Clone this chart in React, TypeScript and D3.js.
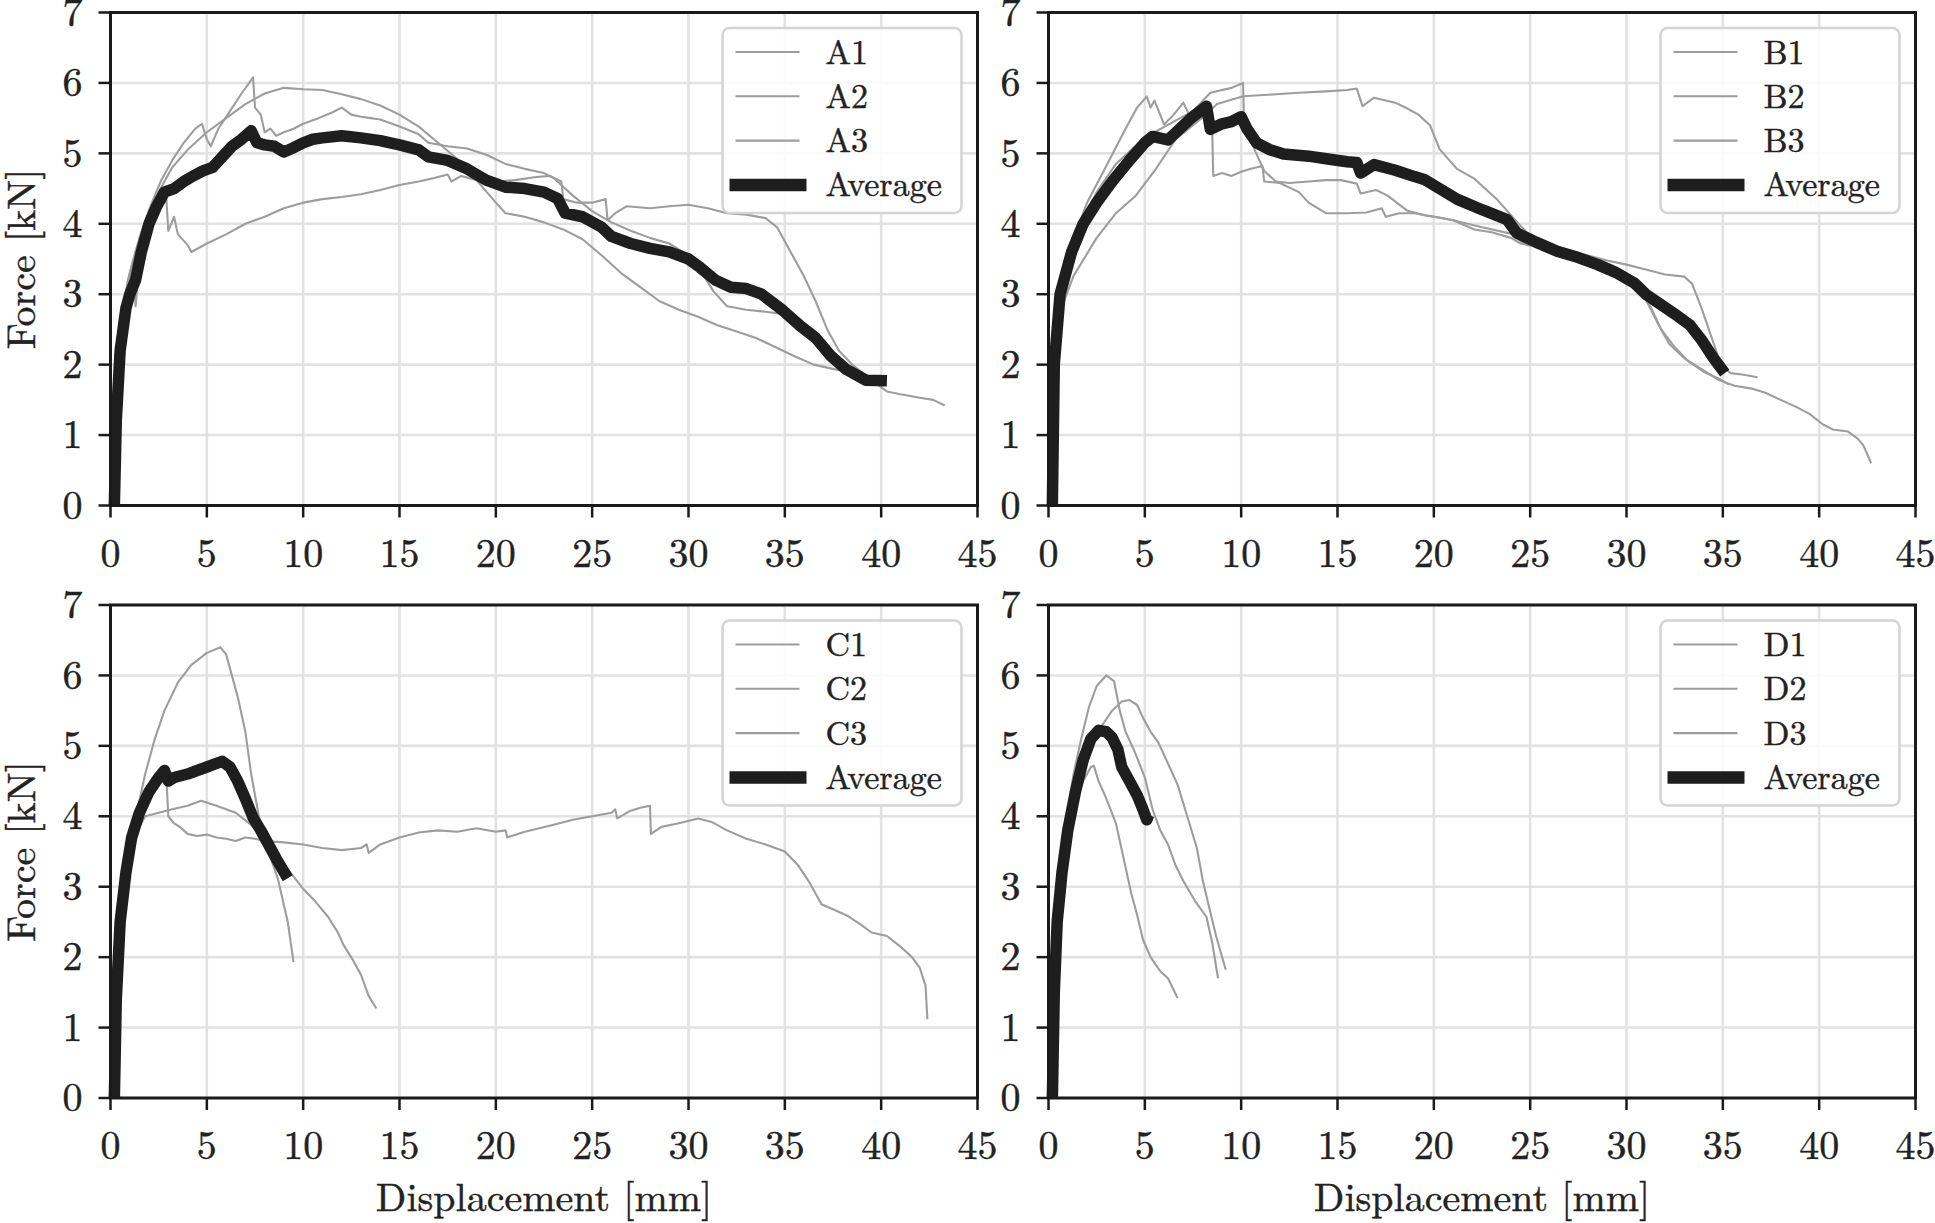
import * as d3 from "d3";

type Pt = [number, number];

const xTicks = [0, 5, 10, 15, 20, 25, 30, 35, 40, 45];
const yTicks = [0, 1, 2, 3, 4, 5, 6, 7];

// ---- panel A ----
const A1: Pt[] = [
  [0.2, 0], [0.35, 1.8], [0.6, 2.7], [0.9, 3.2], [1.3, 3.6], [1.8, 4.0], [2.5, 4.45], [3.2, 4.8],
  [4.0, 5.05], [5.0, 5.3], [6.0, 5.5], [7.0, 5.7], [8.0, 5.85], [9.0, 5.93], [10.0, 5.91], [11.0, 5.9],
  [12.0, 5.84], [13.0, 5.77], [14.0, 5.68], [15.0, 5.55], [16.0, 5.38], [17.0, 5.15], [18.0, 4.92],
  [19.0, 4.62], [20.0, 4.3], [20.5, 4.15], [21.5, 4.1], [22.5, 4.02], [23.5, 3.92], [24.5, 3.78],
  [25.5, 3.55], [26.5, 3.3], [27.5, 3.1], [28.5, 2.9], [29.5, 2.78], [30.5, 2.68], [31.5, 2.56],
  [32.5, 2.47], [33.5, 2.38], [34.5, 2.25], [35.5, 2.12], [36.5, 2.0], [37.5, 1.94], [38.5, 1.88],
  [39.5, 1.78], [40.3, 1.62], [41.0, 1.58], [42.0, 1.53], [42.7, 1.5], [43.3, 1.42],
];
const A2: Pt[] = [
  [0.2, 0], [0.3, 1.5], [0.6, 2.6], [1.0, 3.3], [1.5, 3.8], [2.0, 4.2], [2.6, 4.6], [3.2, 4.9],
  [3.8, 5.15], [4.4, 5.35], [4.75, 5.42], [5.0, 5.2], [5.2, 5.1], [5.6, 5.35], [6.2, 5.6], [6.8, 5.85],
  [7.4, 6.08], [7.5, 5.65], [7.8, 5.55], [8.0, 5.3], [8.3, 5.35], [8.6, 5.25], [9.0, 5.3], [9.5, 5.35],
  [10.0, 5.42], [10.8, 5.5], [11.5, 5.58], [12.0, 5.65], [12.5, 5.55], [13.0, 5.52], [13.5, 5.5],
  [14.0, 5.48], [15.0, 5.38], [16.0, 5.27], [16.5, 5.15], [17.5, 5.1], [18.5, 5.07], [19.5, 4.98],
  [20.5, 4.85], [21.5, 4.78], [22.5, 4.72], [23.0, 4.65], [23.4, 4.55], [24.0, 4.4], [25.0, 4.18],
  [26.0, 4.02], [27.0, 3.9], [28.0, 3.8], [29.0, 3.72], [30.0, 3.55], [30.7, 3.3], [31.3, 3.04],
  [32.0, 2.83], [33.0, 2.78], [34.0, 2.75], [34.9, 2.72], [36.0, 2.45], [36.9, 2.25], [37.5, 2.08],
  [38.2, 1.93], [39.2, 1.78], [39.8, 1.75],
];
const A3: Pt[] = [
  [0.2, 0], [0.4, 2.0], [0.8, 2.9], [1.2, 3.5], [1.3, 2.83], [1.45, 3.3], [2.0, 3.9], [2.5, 4.2],
  [2.9, 4.35], [3.0, 3.9], [3.3, 4.1], [3.5, 3.85], [4.0, 3.7], [4.2, 3.6], [5.0, 3.72], [6.0, 3.85],
  [7.0, 4.0], [8.0, 4.1], [9.0, 4.22], [10.0, 4.3], [11.0, 4.35], [12.0, 4.38], [13.0, 4.42],
  [14.0, 4.48], [15.0, 4.55], [16.0, 4.6], [16.8, 4.65], [17.5, 4.7], [17.7, 4.6], [18.2, 4.68],
  [19.0, 4.62], [20.0, 4.6], [21.0, 4.62], [22.0, 4.66], [22.8, 4.68], [23.4, 4.6], [23.5, 4.35],
  [24.2, 4.3], [25.0, 4.3], [25.7, 4.35], [25.8, 4.05], [26.2, 4.15], [26.8, 4.25], [28.0, 4.22],
  [29.0, 4.25], [30.0, 4.27], [31.0, 4.22], [32.0, 4.15], [33.0, 4.13], [34.0, 4.08], [34.6, 3.95],
  [35.3, 3.6], [36.0, 3.25], [36.6, 2.9], [37.2, 2.5], [37.8, 2.2], [38.5, 2.0], [39.2, 1.85],
  [39.8, 1.8],
];
const A_AVG: Pt[] = [
  [0.2, 0], [0.3, 1.2], [0.5, 2.2], [0.8, 2.8], [1.0, 3.0], [1.3, 3.2], [1.6, 3.6], [2.0, 4.0],
  [2.4, 4.25], [2.8, 4.45], [3.3, 4.5], [3.8, 4.6], [4.3, 4.68], [4.8, 4.75], [5.3, 4.8], [5.8, 4.95],
  [6.3, 5.1], [6.8, 5.2], [7.3, 5.32], [7.6, 5.15], [8.0, 5.12], [8.5, 5.1], [9.0, 5.02], [9.5, 5.08],
  [10.0, 5.15], [10.5, 5.2], [11.0, 5.22], [12.0, 5.25], [13.0, 5.22], [14.0, 5.18], [15.0, 5.12],
  [16.0, 5.05], [16.5, 4.95], [17.5, 4.9], [18.5, 4.78], [19.5, 4.62], [20.5, 4.52], [21.5, 4.5],
  [22.5, 4.45], [23.2, 4.36], [23.6, 4.15], [24.5, 4.1], [25.5, 3.95], [26.0, 3.82], [27.0, 3.72],
  [28.0, 3.65], [29.0, 3.6], [30.0, 3.5], [30.6, 3.38], [31.4, 3.2], [32.2, 3.1], [33.0, 3.08],
  [33.8, 3.0], [34.9, 2.77], [35.8, 2.55], [36.6, 2.38], [37.4, 2.12], [38.2, 1.93], [39.2, 1.78],
  [40.3, 1.77],
];

// ---- panel B ----
const B1: Pt[] = [
  [0.2, 0], [0.4, 2.5], [0.8, 3.3], [1.3, 3.78], [2.0, 4.3], [3.0, 4.82], [4.0, 5.35], [4.6, 5.65],
  [5.1, 5.81], [5.3, 5.65], [5.5, 5.75], [6.0, 5.41], [6.5, 5.55], [7.0, 5.72], [7.3, 5.55], [8.0, 5.52],
  [8.5, 5.3], [8.55, 4.68], [9.0, 4.72], [9.5, 4.68], [10.0, 4.74], [10.5, 4.78], [11.1, 4.82],
  [11.2, 4.6], [12.0, 4.58], [13.0, 4.45], [13.5, 4.3], [14.4, 4.15], [15.5, 4.15], [16.5, 4.16],
  [17.3, 4.22], [17.5, 4.1], [18.2, 4.15], [19.0, 4.15], [20.0, 4.1], [21.0, 4.05], [22.1, 3.92],
  [23.0, 3.88], [24.0, 3.8], [24.5, 3.72], [25.5, 3.68], [26.5, 3.6], [28.0, 3.5], [29.5, 3.35],
  [30.3, 3.12], [30.9, 2.98], [31.6, 2.6], [32.2, 2.3], [33.0, 2.09], [34.0, 1.92], [34.8, 1.78],
  [35.6, 1.7], [36.5, 1.66], [37.2, 1.6], [38.0, 1.5], [38.8, 1.4], [39.5, 1.3], [40.2, 1.15],
  [40.7, 1.08], [41.5, 1.05], [42.0, 0.95], [42.3, 0.85], [42.7, 0.6],
];
const B2: Pt[] = [
  [0.2, 0], [0.4, 2.1], [0.8, 2.9], [1.3, 3.26], [2.5, 3.8], [3.5, 4.15], [4.5, 4.39], [5.5, 4.75],
  [6.6, 5.2], [7.9, 5.49], [8.75, 5.7], [10.1, 5.81], [11.8, 5.84], [13.0, 5.86], [14.4, 5.88],
  [15.5, 5.9], [16.0, 5.92], [16.3, 5.67], [16.9, 5.79], [18.0, 5.72], [18.6, 5.64], [19.2, 5.55],
  [19.8, 5.4], [20.3, 5.06], [21.2, 4.78], [22.1, 4.64], [23.3, 4.34], [24.5, 3.97], [25.1, 3.8],
  [26.0, 3.7], [27.0, 3.62], [28.0, 3.55], [29.0, 3.48], [30.0, 3.42], [31.0, 3.35], [32.0, 3.28],
  [33.0, 3.25], [33.4, 3.15], [33.9, 2.8], [34.4, 2.4], [34.9, 2.0], [35.4, 1.88], [36.0, 1.86],
  [36.8, 1.82],
];
const B3: Pt[] = [
  [0.2, 0], [0.4, 2.3], [0.8, 3.2], [1.5, 3.9], [2.5, 4.45], [3.5, 4.85], [4.5, 5.1], [5.5, 5.3],
  [6.5, 5.45], [7.5, 5.6], [8.4, 5.86], [9.5, 5.93], [10.1, 6.0], [10.15, 5.4], [10.7, 5.05],
  [11.2, 4.75], [11.8, 4.6], [12.5, 4.58], [13.5, 4.6], [14.4, 4.62], [15.2, 4.62], [16.0, 4.57],
  [16.2, 4.43], [17.0, 4.48], [17.6, 4.4], [18.6, 4.19], [19.5, 4.12], [20.3, 4.09], [21.0, 4.05],
  [22.5, 3.95], [24.0, 3.86], [24.8, 3.7], [26.0, 3.65], [27.5, 3.57], [28.5, 3.5], [29.5, 3.38],
  [30.5, 3.15], [31.2, 2.85], [31.8, 2.5], [32.5, 2.25], [33.2, 2.05], [34.0, 1.9], [34.8, 1.8],
  [35.3, 1.72],
];
const B_AVG: Pt[] = [
  [0.2, 0], [0.3, 2.0], [0.6, 3.0], [1.2, 3.6], [1.8, 4.0], [2.5, 4.3], [3.3, 4.6], [4.2, 4.9],
  [5.0, 5.15], [5.4, 5.24], [6.2, 5.19], [6.7, 5.32], [7.4, 5.5], [8.2, 5.67], [8.4, 5.34], [9.0, 5.42],
  [9.5, 5.45], [10.0, 5.52], [10.3, 5.35], [10.8, 5.15], [11.5, 5.05], [12.2, 4.99], [13.5, 4.96],
  [14.5, 4.92], [15.5, 4.88], [16.0, 4.87], [16.2, 4.72], [16.9, 4.84], [18.0, 4.76], [19.0, 4.67],
  [19.5, 4.63], [20.3, 4.5], [21.2, 4.35], [22.5, 4.2], [23.8, 4.06], [24.3, 3.87], [25.3, 3.74],
  [26.4, 3.61], [27.5, 3.52], [28.5, 3.42], [29.5, 3.3], [30.4, 3.16], [31.0, 3.0], [31.8, 2.85],
  [32.5, 2.72], [33.3, 2.56], [33.9, 2.35], [34.5, 2.1], [35.1, 1.88],
];

// ---- panel C ----
const C1: Pt[] = [
  [0.2, 0], [0.4, 1.8], [0.7, 2.8], [1.0, 3.5], [1.4, 4.1], [1.8, 4.6], [2.3, 5.1], [2.8, 5.5],
  [3.5, 5.9], [4.2, 6.15], [5.0, 6.32], [5.7, 6.4], [6.0, 6.3], [6.2, 6.1], [6.6, 5.7], [7.0, 5.2],
  [7.3, 4.6], [7.7, 4.0], [8.2, 3.5], [8.7, 3.1], [9.2, 2.5], [9.5, 1.93],
];
const C2: Pt[] = [
  [0.2, 0], [0.4, 1.8], [0.7, 2.8], [1.0, 3.4], [1.4, 3.8], [1.8, 4.0], [2.5, 4.05], [3.2, 4.1],
  [4.0, 4.15], [4.7, 4.22], [5.5, 4.15], [6.5, 4.05], [7.2, 3.9], [7.8, 3.75], [8.5, 3.55], [9.2, 3.25],
  [10.0, 2.97], [10.6, 2.8], [11.3, 2.57], [11.8, 2.35], [12.1, 2.17], [12.6, 1.95], [13.0, 1.75],
  [13.4, 1.45], [13.8, 1.27],
];
const C3: Pt[] = [
  [0.2, 0], [0.4, 1.7], [0.7, 2.7], [1.0, 3.3], [1.4, 3.8], [1.9, 4.2], [2.4, 4.45], [2.9, 4.55],
  [3.0, 4.0], [3.3, 3.9], [3.6, 3.85], [4.0, 3.75], [4.5, 3.72], [5.0, 3.74], [5.5, 3.7], [6.0, 3.68],
  [6.5, 3.65], [7.0, 3.7], [7.5, 3.68], [8.0, 3.65], [9.0, 3.63], [10.0, 3.6], [11.0, 3.55],
  [12.0, 3.52], [13.0, 3.55], [13.3, 3.6], [13.4, 3.48], [14.0, 3.6], [15.0, 3.7], [16.0, 3.77],
  [17.0, 3.8], [18.0, 3.78], [19.0, 3.83], [20.0, 3.78], [20.5, 3.8], [20.6, 3.7], [21.5, 3.78],
  [23.0, 3.88], [24.0, 3.95], [25.0, 4.0], [26.0, 4.05], [26.2, 4.1], [26.3, 3.97], [27.0, 4.08],
  [27.5, 4.12], [28.0, 4.15], [28.05, 3.75], [28.6, 3.85], [29.5, 3.9], [30.5, 3.97], [31.2, 3.92],
  [32.0, 3.8], [33.0, 3.68], [34.0, 3.6], [35.0, 3.5], [35.7, 3.3], [36.3, 3.05], [36.9, 2.75],
  [37.5, 2.68], [38.3, 2.58], [39.0, 2.45], [39.5, 2.35], [40.3, 2.3], [41.0, 2.15], [41.6, 2.0],
  [42.0, 1.85], [42.3, 1.6], [42.4, 1.12],
];
const C_AVG: Pt[] = [
  [0.2, 0], [0.3, 1.4], [0.5, 2.5], [0.8, 3.2], [1.1, 3.7], [1.5, 4.05], [2.0, 4.35], [2.5, 4.55],
  [2.8, 4.65], [3.0, 4.5], [3.3, 4.55], [4.0, 4.6], [4.5, 4.65], [5.0, 4.7], [5.5, 4.75], [5.8, 4.78],
  [6.2, 4.7], [6.6, 4.5], [7.0, 4.25], [7.4, 3.98], [7.8, 3.8], [8.2, 3.6], [8.6, 3.4], [9.2, 3.12],
];

// ---- panel D ----
const D1: Pt[] = [
  [0.2, 0], [0.35, 1.8], [0.6, 3.0], [0.9, 3.9], [1.3, 4.6], [1.7, 5.1], [2.1, 5.55], [2.5, 5.85],
  [3.0, 6.0], [3.4, 5.92], [3.7, 5.5], [4.0, 5.2], [4.5, 4.9], [5.0, 4.55], [5.4, 4.1], [5.8, 3.8],
  [6.2, 3.6], [6.6, 3.3], [7.0, 3.08], [7.6, 2.8], [8.2, 2.57], [8.5, 2.2], [8.8, 1.7],
];
const D2: Pt[] = [
  [0.2, 0], [0.35, 1.6], [0.6, 2.7], [1.0, 3.6], [1.4, 4.2], [1.9, 4.7], [2.3, 5.0], [2.8, 5.3],
  [3.3, 5.5], [3.8, 5.63], [4.2, 5.65], [4.6, 5.58], [4.9, 5.4], [5.3, 5.2], [5.7, 5.05], [6.2, 4.75],
  [6.7, 4.45], [7.2, 4.0], [7.7, 3.55], [8.0, 3.1], [8.3, 2.75], [8.7, 2.3], [9.2, 1.82],
];
const D3: Pt[] = [
  [0.2, 0], [0.35, 1.7], [0.6, 2.8], [1.0, 3.7], [1.4, 4.2], [1.8, 4.5], [2.2, 4.7], [2.35, 4.72],
  [2.6, 4.5], [3.0, 4.25], [3.5, 3.9], [3.9, 3.4], [4.3, 2.9], [4.6, 2.6], [4.9, 2.25], [5.3, 2.0],
  [5.8, 1.8], [6.2, 1.7], [6.7, 1.42],
];
const D_AVG: Pt[] = [
  [0.2, 0], [0.3, 1.5], [0.45, 2.5], [0.7, 3.2], [1.0, 3.8], [1.4, 4.35], [1.8, 4.8], [2.2, 5.1],
  [2.6, 5.22], [3.0, 5.2], [3.3, 5.12], [3.6, 4.95], [3.8, 4.7], [4.2, 4.5], [4.6, 4.3], [4.9, 4.1],
  [5.1, 3.95], [5.2, 4.02],
];

const W = 1935;
const H = 1223;
const PW = 867;
const PH = 493;
const FONT = '"Latin Modern Roman", "Liberation Serif", serif';

// slight outline so the thin Latin Modern strokes read as heavy as the reference
const txt = { fontFamily: FONT, fill: "#222", stroke: "#222", strokeWidth: 0.45 };

interface PanelProps {
  left: number;
  top: number;
  names: string[];
  runs: Pt[][];
  avg: Pt[];
  yLabel: boolean;
  xLabel: boolean;
}

function Panel({ left, top, names, runs, avg, yLabel, xLabel }: PanelProps) {
  const x = d3.scaleLinear().domain([0, 45]).range([0, PW]);
  const y = d3.scaleLinear().domain([0, 7]).range([PH, 0]);
  const line = d3
    .line<Pt>()
    .x((d) => x(d[0]))
    .y((d) => y(d[1]));

  const legX = PW - 255;
  const legY = 15.5;
  const rows = [...names, "Average"];

  return (
    <g transform={`translate(${left},${top})`}>
      {xTicks.map((t) => (
        <line key={"gx" + t} x1={x(t)} x2={x(t)} y1={0} y2={PH} stroke="#e2e2e2" strokeWidth={2.6} />
      ))}
      {yTicks.map((t) => (
        <line key={"gy" + t} x1={0} x2={PW} y1={y(t)} y2={y(t)} stroke="#e2e2e2" strokeWidth={2.6} />
      ))}
      {runs.map((r, i) => (
        <path key={i} d={line(r) ?? ""} fill="none" stroke="#9d9d9d" strokeWidth={2.1} strokeLinejoin="round" />
      ))}
      <path d={line(avg) ?? ""} fill="none" stroke="#1e1e1e" strokeWidth={11.5} strokeLinejoin="round" strokeLinecap="butt" />
      <rect x={0} y={0} width={PW} height={PH} fill="none" stroke="#1a1a1a" strokeWidth={3} />
      {xTicks.map((t) => (
        <g key={"tx" + t}>
          <line x1={x(t)} x2={x(t)} y1={PH} y2={PH + 12} stroke="#1a1a1a" strokeWidth={2.5} />
          <text x={x(t)} y={PH + 61} textAnchor="middle" fontSize={40} style={txt}>
            {t}
          </text>
        </g>
      ))}
      {yTicks.map((t) => (
        <g key={"ty" + t}>
          <line x1={-12} x2={0} y1={y(t)} y2={y(t)} stroke="#1a1a1a" strokeWidth={2.5} />
          <text x={-28} y={y(t)} dy="0.33em" textAnchor="end" fontSize={40} style={txt}>
            {t}
          </text>
        </g>
      ))}
      <g transform={`translate(${legX},${legY})`}>
        <rect x={0} y={0} width={239} height={185} rx={7} fill="white" fillOpacity={0.85} stroke="#d4d4d4" strokeWidth={2.5} />
        {rows.map((name, i) => {
          const ry = 24 + i * 44.3;
          const isAvg = i === rows.length - 1;
          return (
            <g key={name}>
              <line
                x1={isAvg ? 7 : 13}
                x2={isAvg ? 84 : 77}
                y1={ry}
                y2={ry}
                stroke={isAvg ? "#1e1e1e" : "#9d9d9d"}
                strokeWidth={isAvg ? 12.5 : 2.1}
              />
              <text x={103} y={ry} dy="0.34em" fontSize={34} style={txt}>
                {name}
              </text>
            </g>
          );
        })}
      </g>
      {yLabel && (
        <text
          transform={`translate(${-89},${PH / 2}) rotate(-90)`}
          textAnchor="middle"
          dy="0.33em"
          fontSize={40}
          style={txt}
        >
          Force [kN]
        </text>
      )}
      {xLabel && (
        <text x={PW / 2} y={PH + 113} textAnchor="middle" fontSize={40} style={txt}>
          Displacement [mm]
        </text>
      )}
    </g>
  );
}

export default function App() {
  return (
    <svg
      width={W}
      height={H}
      viewBox={`0 0 ${W} ${H}`}
      style={{ position: "absolute", left: 0, top: 0, background: "white" }}
    >
      <rect width={W} height={H} fill="white" />
      <Panel left={110.5} top={12.5} names={["A1", "A2", "A3"]} runs={[A1, A2, A3]} avg={A_AVG} yLabel xLabel={false} />
      <Panel left={1048.5} top={12.5} names={["B1", "B2", "B3"]} runs={[B1, B2, B3]} avg={B_AVG} yLabel={false} xLabel={false} />
      <Panel left={110.5} top={605} names={["C1", "C2", "C3"]} runs={[C1, C2, C3]} avg={C_AVG} yLabel xLabel />
      <Panel left={1048.5} top={605} names={["D1", "D2", "D3"]} runs={[D1, D2, D3]} avg={D_AVG} yLabel={false} xLabel />
    </svg>
  );
}
